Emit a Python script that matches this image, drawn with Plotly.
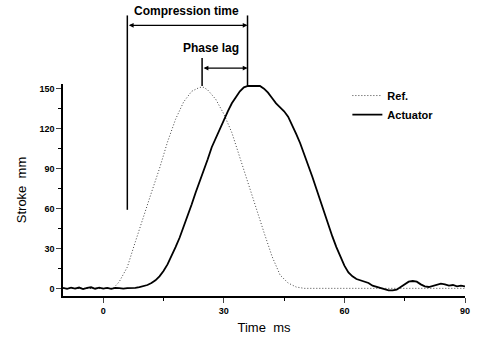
import plotly.graph_objects as go

# ---------------- data ----------------
ref_t = [-10, -5, 0, 2.5, 4, 6, 8, 10, 12, 14, 16, 18, 20, 22, 24, 25, 26, 28, 30,
         32, 34, 36, 38, 40, 42, 44, 46, 48, 50, 60, 70, 80, 90]
ref_v = [0, 0, 0, 0, 5, 16, 35, 54, 72, 90, 110, 127, 140, 148, 151, 151, 149, 142, 131,
         117, 98, 79, 60, 42, 24, 10, 4, 1, 0, 0, 0, 0, 0]

act_t = [-10, -9, -8, -7, -6, -5, -4, -3, -2, -1, 0, 1, 2, 3, 4, 5, 6, 7, 8,
         9, 10, 11, 12, 13, 14, 15, 16, 17, 18, 19, 20, 21, 22, 23, 24, 25, 26, 27, 28, 29,
         30, 31, 32, 33, 34, 35, 36, 37, 38, 39, 40, 41, 42, 43, 44, 45, 46, 47, 48, 49,
         50, 51, 52, 53, 54, 55, 56, 57, 58, 59, 60, 61, 62, 63, 64, 65, 66, 67, 68, 69,
         70, 71, 72, 73, 74, 75, 76, 77, 78, 79, 80, 81, 82, 83, 84, 85, 86, 87, 88, 89, 90]
act_v = [0.3, -0.4, 0.5, -0.2, 0.6, -0.5, 0.4, 0.8, -0.3, 0.5, -0.2, 0.4, -0.4, 0.3, 0.1, -0.2, 0.2, 0.1, 0.4,
         1, 1.5, 2.5, 4, 6, 9, 13, 18, 24, 31, 38, 46, 54, 63, 72, 80, 88, 97, 106, 113, 120,
         127, 133, 139, 144, 148, 151, 152, 152, 152, 152, 150, 147, 143, 139, 136, 133, 129, 123, 116, 109,
         101, 93, 84, 75, 66, 56, 47, 39, 31, 24, 17, 12, 9, 7, 6, 5, 4, 2, 1, 0,
         -1, -1.5, -1.5, -1, 1, 3, 5, 5.5, 5, 3, 1.5, 1, 2, 3, 3.5, 3, 2, 2.5, 1.5, 2, 1.5]

x_ticks = [0, 30, 60, 90]
y_ticks = [0, 30, 60, 90, 120, 150]

# annotation anchors (ms / mm)
comp_start = 6
comp_end = 35.9
ref_peak_t = 24.6
comp_line_bottom = 59
peak_level = 152

X_RANGE = [-10, 90]
Y_RANGE = [-5.75, 153.5]


def py(v):
    return (v - Y_RANGE[0]) / (Y_RANGE[1] - Y_RANGE[0])


FONT = "Liberation Sans, Arial, sans-serif"

fig = go.Figure()
fig.add_trace(go.Scatter(x=ref_t, y=ref_v, mode="lines", name="Ref.",
                         line=dict(color="#444444", width=1, dash="1px,2px")))
fig.add_trace(go.Scatter(x=act_t, y=act_v, mode="lines", name="Actuator",
                         line=dict(color="black", width=1.8)))

shapes = [
    dict(type="line", xref="x", yref="paper", x0=comp_start, x1=comp_start,
         y0=py(comp_line_bottom), y1=py(205), line=dict(color="black", width=1.5)),
    dict(type="line", xref="x", yref="paper", x0=comp_end, x1=comp_end,
         y0=py(peak_level), y1=py(205), line=dict(color="black", width=1.5)),
    dict(type="line", xref="x", yref="paper", x0=ref_peak_t, x1=ref_peak_t,
         y0=py(peak_level), y1=py(173), line=dict(color="black", width=1.5)),
]

annotations = [
    dict(xref="x", yref="paper", x=comp_end, y=py(197.6), axref="x", ax=comp_start,
         ayref="pixel", ay=0, text="", showarrow=True, arrowhead=2, arrowside="end+start",
         arrowsize=0.8, arrowwidth=1.2, arrowcolor="black", standoff=0, startstandoff=0),
    dict(xref="x", yref="paper", x=comp_end, y=py(165.5), axref="x", ax=ref_peak_t,
         ayref="pixel", ay=0, text="", showarrow=True, arrowhead=2, arrowside="end+start",
         arrowsize=0.8, arrowwidth=1.2, arrowcolor="black", standoff=0, startstandoff=0),
    dict(xref="x", yref="paper", x=20.7, y=py(208), yanchor="middle", xanchor="center",
         text="Compression time", showarrow=False,
         font=dict(family=FONT, size=12, color="black", weight="bold")),
    dict(xref="x", yref="paper", x=26.9, y=py(180.4), yanchor="middle", xanchor="center",
         text="Phase lag", showarrow=False,
         font=dict(family=FONT, size=12, color="black", weight="bold")),
]

fig.update_layout(
    width=478, height=341,
    margin=dict(l=63, r=8, t=84, b=44),
    paper_bgcolor="white", plot_bgcolor="white",
    font=dict(family=FONT, color="black"),
    shapes=shapes, annotations=annotations,
    showlegend=True,
    legend=dict(x=0.7074, y=1.014, xanchor="left", yanchor="top",
                bgcolor="rgba(0,0,0,0)", borderwidth=0,
                font=dict(family=FONT, size=11, color="black", weight="bold"),
                tracegroupgap=0, itemwidth=30),
)
fig.update_xaxes(range=X_RANGE, tickvals=x_ticks, ticks="outside", ticklen=5, tickwidth=1,
                 showline=True, linecolor="black", linewidth=1.5, showgrid=False, zeroline=False,
                 tickfont=dict(family=FONT, size=9, color="black", weight="bold"),
                 minor=dict(dtick=15, tick0=0, ticks="outside", ticklen=3, tickcolor="black", showgrid=False),
                 title=dict(text="Time\u00a0\u00a0ms", font=dict(family=FONT, size=13, color="black"), standoff=8))
fig.update_yaxes(range=Y_RANGE, tickvals=y_ticks, ticks="outside", ticklen=5, tickwidth=1,
                 showline=True, linecolor="black", linewidth=1.5, showgrid=False, zeroline=False,
                 tickfont=dict(family=FONT, size=9, color="black", weight="bold"),
                 minor=dict(dtick=15, tick0=0, ticks="outside", ticklen=3, tickcolor="black", showgrid=False),
                 title=dict(text="Stroke\u00a0\u00a0mm", font=dict(family=FONT, size=13, color="black"), standoff=10))

fig.write_html("out.html")
